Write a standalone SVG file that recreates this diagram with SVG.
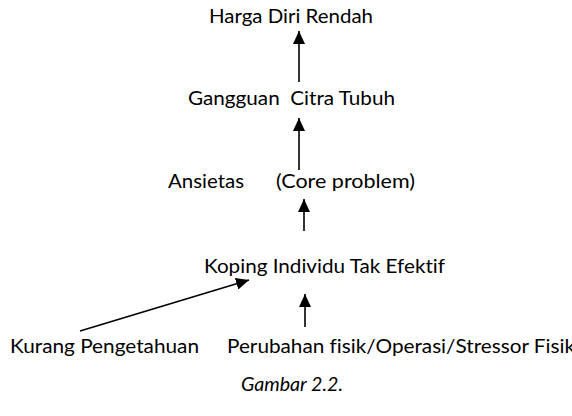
<svg xmlns="http://www.w3.org/2000/svg" width="572" height="416" viewBox="0 0 572 416">
<style>
  text { font-family: Lato, "Open Sans", "Liberation Sans", sans-serif; font-size: 19.5px; fill: #000; white-space: pre; font-variant-ligatures: none; }
  .cap { font-style: italic; }
  .conn line { stroke: #000; stroke-width: 1.6; fill: none; marker-end: url(#ah); }
</style>
<defs>
  <marker id="ah" markerUnits="userSpaceOnUse" markerWidth="13" markerHeight="12" refX="13" refY="6" orient="auto">
    <path d="M0,0 L13,6 L0,12 z" fill="#000"/>
  </marker>
</defs>
<rect width="572" height="416" fill="#fff"/>
<g id="n-harga"><text x="209" y="23" textLength="164" lengthAdjust="spacingAndGlyphs">Harga Diri Rendah</text></g>
<g id="n-gangguan"><text x="188" y="105" textLength="207" lengthAdjust="spacingAndGlyphs">Gangguan  Citra Tubuh</text></g>
<g id="n-ansietas"><text x="168" y="188" textLength="76" lengthAdjust="spacingAndGlyphs">Ansietas</text></g>
<g id="n-core"><text x="276" y="188" textLength="139" lengthAdjust="spacingAndGlyphs">(Core problem)</text></g>
<g id="n-koping"><text x="204" y="273" textLength="241" lengthAdjust="spacingAndGlyphs">Koping Individu Tak Efektif</text></g>
<g id="n-kurang"><text x="10" y="353" textLength="189" lengthAdjust="spacingAndGlyphs">Kurang Pengetahuan</text></g>
<g id="n-perubahan"><text x="227" y="353" textLength="348" lengthAdjust="spacingAndGlyphs">Perubahan fisik/Operasi/Stressor Fisik</text></g>
<g id="caption"><text class="cap" x="241" y="391" textLength="102" lengthAdjust="spacingAndGlyphs">Gambar 2.2.</text></g>
<g id="connectors" class="conn">
  <line x1="299" y1="82" x2="299" y2="31"/>
  <line x1="299" y1="170" x2="299" y2="118"/>
  <line x1="304" y1="231" x2="304" y2="199"/>
  <line x1="80" y1="331" x2="249" y2="280"/>
  <line x1="305" y1="327" x2="305" y2="294"/>
</g>
</svg>
